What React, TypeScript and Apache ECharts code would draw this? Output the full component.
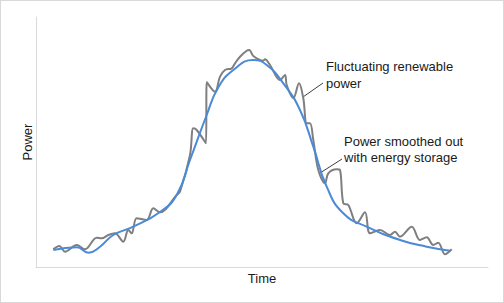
import React, { useEffect, useRef } from "react";
import * as echarts from "echarts";

// x: time units (0..452), y: power units (0..250)
const fluctuatingX = [17.3, 23.3, 29, 40.7, 49, 60.7, 65.7, 72.3, 79, 87.3, 92.3, 95.7, 100.7, 110.7, 117.3, 124, 140.7, 144, 154, 157.3, 160.7, 170, 170.7, 179, 184, 189, 195.7, 199, 204, 210.7, 213.3, 217.3, 227.3, 229, 234, 244, 249, 250.7, 257.3, 263, 267.3, 270.7, 274, 277.3, 282.3, 289, 292.3, 300.7, 304, 307.3, 312.3, 320.7, 329, 334, 344, 354, 359, 364, 375.7, 384, 390.7, 397.3, 402.3, 409, 415.7];
const fluctuatingY = [17.7, 21, 15.3, 22, 17.7, 29.3, 28.7, 32, 33.7, 25.3, 37, 33.7, 48.7, 47, 58.7, 54.7, 72, 75.3, 112, 138.7, 137, 123.7, 185, 175.3, 190.3, 197, 198.7, 203.7, 210.3, 216.3, 217, 211, 206.3, 207.7, 202, 187, 192, 182, 168.7, 183.7, 168.7, 143.7, 143.7, 127, 97, 83.7, 93.7, 97.7, 97, 63.7, 62, 43.7, 54.7, 33.7, 37, 32, 35.3, 30.3, 40.3, 27, 29.7, 22, 24.3, 12.7, 17.7];

const smoothX = [17.3, 40.7, 52.3, 64, 77.3, 97.3, 124, 140.7, 154, 170.7, 182, 197.3, 217.3, 230.7, 247.3, 264, 277.3, 290.7, 307.3, 330.7, 364, 390.7, 414];
const smoothY = [17, 19.7, 14.3, 20.3, 32, 40.3, 55, 72, 107, 152, 179, 197, 207, 202, 183.7, 157, 120.3, 80.3, 53.7, 40.3, 27, 20.3, 16.3];

const xAxisTitle = "Time";
const yAxisTitle = "Power";
const labelFluct = ["Fluctuating renewable", "power"];
const labelSmooth = ["Power smoothed out", "with energy storage"];

const FONT = "Liberation Sans, Arial, sans-serif";

export default function App() {
  const ref = useRef<HTMLDivElement>(null);
  useEffect(() => {
    document.body.style.margin = "0";
    const chart = echarts.init(ref.current!, null, { renderer: "svg" });
    const textStyle = (t: string, x: number, y: number, extra: any = {}) => ({
      type: "text",
      x,
      y,
      style: {
        text: t,
        fill: "#1a1a1a",
        font: `13px ${FONT}`,
        textVerticalAlign: "middle",
        ...extra,
      },
    });
    chart.setOption({
      animation: false,
      grid: { left: 35, right: 15, top: 16, bottom: 35 },
      xAxis: {
        type: "value",
        min: 0,
        max: 452,
        axisLine: { show: true, lineStyle: { color: "#d9d9d9", width: 1 } },
        axisTick: { show: false },
        axisLabel: { show: false },
        splitLine: { show: false },
      },
      yAxis: {
        type: "value",
        min: 0,
        max: 250,
        axisLine: { show: true, lineStyle: { color: "#d9d9d9", width: 1 } },
        axisTick: { show: false },
        axisLabel: { show: false },
        splitLine: { show: false },
      },
      series: [
        {
          type: "line",
          data: fluctuatingX.map((x, i) => [x, fluctuatingY[i]]),
          smooth: 0.35,
          symbol: "none",
          lineStyle: { color: "#7f7f7f", width: 2 },
          z: 2,
        },
        {
          type: "line",
          data: smoothX.map((x, i) => [x, smoothY[i]]),
          smooth: 0.5,
          symbol: "none",
          lineStyle: { color: "#4a8ad8", width: 2 },
          z: 3,
        },
      ],
      graphic: [
        textStyle(xAxisTitle, 261, 277, { textAlign: "center" }),
        {
          type: "text",
          x: 26,
          y: 141,
          rotation: Math.PI / 2,
          style: {
            text: yAxisTitle,
            fill: "#1a1a1a",
            font: `13px ${FONT}`,
            textAlign: "center",
            textVerticalAlign: "middle",
          },
        },
        textStyle(labelFluct[0], 325, 65),
        textStyle(labelFluct[1], 325, 82),
        textStyle(labelSmooth[0], 343, 140),
        textStyle(labelSmooth[1], 343, 156),
        {
          type: "line",
          shape: { x1: 322, y1: 82, x2: 302, y2: 96 },
          style: { stroke: "#404040", lineWidth: 1 },
        },
        {
          type: "line",
          shape: { x1: 341, y1: 158, x2: 319, y2: 172 },
          style: { stroke: "#404040", lineWidth: 1 },
        },
      ],
    });
    return () => chart.dispose();
  }, []);
  return (
    <div
      ref={ref}
      style={{
        width: 504,
        height: 303,
        boxSizing: "border-box",
        border: "1px solid #d9d9d9",
        background: "#fff",
      }}
    />
  );
}
